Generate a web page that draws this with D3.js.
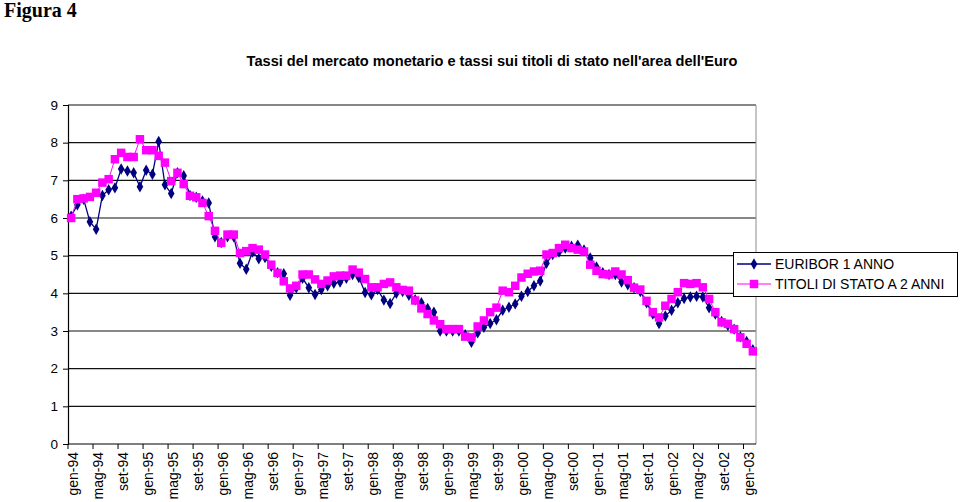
<!DOCTYPE html>
<html>
<head>
<meta charset="utf-8">
<script src="https://cdn.jsdelivr.net/npm/d3@7"></script>
<style>
  body { margin: 0; background: #fff; }
  svg { display: block; }
</style>
</head>
<body>
<svg id="chart"></svg>
<script>
// mesi gen-94 .. feb-03
const monthNames = ["gen", "feb", "mar", "apr", "mag", "giu", "lug", "ago", "set", "ott", "nov", "dic"];
const years = ["94", "95", "96", "97", "98", "99", "00", "01", "02", "03"];
const categories = years.flatMap((y) => monthNames.map((m) => `${m}-${y}`)).slice(0, 110);

const yTicks = [0, 1, 2, 3, 4, 5, 6, 7, 8, 9];

const euribor = [
  6.05, 6.35, 6.5, 5.9, 5.7, 6.6, 6.75, 6.8, 7.3, 7.25,
  7.2, 6.83, 7.27, 7.16, 8.03, 6.88, 6.65, 7.2, 7.12, 6.6,
  6.55, 6.45, 6.4, 5.5, 5.35, 5.5, 5.5, 4.8, 4.64, 5.1,
  4.92, 4.95, 4.72, 4.55, 4.52, 3.95, 4.15, 4.4, 4.15, 3.97,
  4.1, 4.2, 4.27, 4.3, 4.4, 4.5, 4.42, 4.02, 3.96, 4.1,
  3.82, 3.73, 4.0, 4.05, 3.95, 3.83, 3.75, 3.6, 3.5, 3.0,
  3.0, 3.0, 3.0, 2.9, 2.7, 2.95, 3.1, 3.2, 3.3, 3.55,
  3.63, 3.72, 3.92, 4.05, 4.2, 4.33, 4.8, 5.03, 5.1, 5.2,
  5.25, 5.28, 5.15, 4.94, 4.7, 4.55, 4.5, 4.5, 4.3, 4.23,
  4.15, 4.05, 3.75, 3.45, 3.2, 3.4, 3.55, 3.75, 3.86, 3.9,
  3.92, 3.9, 3.62, 3.45, 3.25, 3.15, 3.05, 2.85, 2.72, 2.5
];

const titoli = [
  6.0, 6.5, 6.52, 6.56, 6.67, 6.94, 7.03, 7.56, 7.73, 7.62,
  7.62, 8.09, 7.8, 7.8, 7.65, 7.47, 6.98, 7.2, 6.9, 6.59,
  6.55, 6.4, 6.05, 5.66, 5.34, 5.56, 5.56, 5.07, 5.12, 5.2,
  5.16, 5.03, 4.76, 4.54, 4.32, 4.13, 4.2, 4.5, 4.5, 4.37,
  4.25, 4.34, 4.45, 4.47, 4.47, 4.63, 4.55, 4.38, 4.16, 4.16,
  4.25, 4.29, 4.16, 4.09, 4.07, 3.81, 3.6, 3.45, 3.28, 3.18,
  3.05, 3.05, 3.05, 2.85, 2.83, 3.12, 3.28, 3.5, 3.62, 4.07,
  4.03, 4.2, 4.42, 4.52, 4.58, 4.6, 5.03, 5.07, 5.2, 5.29,
  5.2, 5.16, 5.11, 4.76, 4.6, 4.51, 4.5, 4.58, 4.5, 4.35,
  4.15, 4.1, 3.8, 3.5, 3.36, 3.67, 3.85, 4.03, 4.27, 4.25,
  4.27, 4.16, 3.85, 3.5, 3.23, 3.19, 3.05, 2.83, 2.66, 2.46
];

const seriesNames = ["EURIBOR 1 ANNO", "TITOLI DI STATO A 2 ANNI"];

const draw = () => {
  const width = 960,
    height = 502;
  const plot = { left: 68, right: 756, top: 105, bottom: 444 };
  const font = "Arial, 'Liberation Sans', sans-serif";

  const svg = d3.select("svg#chart").attr("width", width).attr("height", height);

  const x = d3.scaleBand().domain(categories).range([plot.left, plot.right]);
  const cx = (c) => x(c) + x.bandwidth() / 2;
  const y = d3.scaleLinear().domain([0, 9]).range([plot.bottom, plot.top]);

  // titoli
  svg.append("text")
    .attr("x", 4).attr("y", 17)
    .attr("font-family", "'Liberation Serif', 'Times New Roman', serif")
    .attr("font-weight", "bold").attr("font-size", "20px")
    .text("Figura 4");

  svg.append("text")
    .attr("x", 492).attr("y", 66)
    .attr("text-anchor", "middle")
    .attr("font-family", font).attr("font-weight", "bold").attr("font-size", "14.6px")
    .text("Tassi del mercato monetario e tassi sui titoli di stato nell'area dell'Euro");

  // griglia
  svg.append("g")
    .selectAll("line")
    .data(yTicks.filter((d) => d > 0))
    .join("line")
    .attr("x1", plot.left).attr("x2", plot.right)
    .attr("y1", (d) => y(d)).attr("y2", (d) => y(d))
    .attr("stroke", "#111").attr("stroke-width", 1.2);

  // bordo destro area del grafico
  svg.append("line")
    .attr("x1", plot.right).attr("x2", plot.right)
    .attr("y1", plot.top).attr("y2", plot.bottom)
    .attr("stroke", "#8c8c8c").attr("stroke-width", 1);

  // asse y
  const yAxis = svg.append("g")
    .attr("transform", `translate(${plot.left},0)`)
    .call(d3.axisLeft(y).tickValues(yTicks).tickSize(5).tickPadding(5).tickFormat(d3.format("d")));
  yAxis.select(".domain").attr("stroke", "#000").attr("stroke-width", 1.2);
  yAxis.selectAll(".tick line").attr("stroke", "#000");
  yAxis.selectAll("text").attr("font-family", font).attr("font-size", "13.5px").attr("fill", "#000");

  // asse x
  const xAxis = svg.append("g").attr("transform", `translate(0,${plot.bottom})`);
  xAxis.append("line")
    .attr("x1", plot.left).attr("x2", plot.right)
    .attr("stroke", "#000").attr("stroke-width", 1.2);
  const labelled = categories.filter((c, i) => i % 4 === 0);
  xAxis.selectAll("line.tick")
    .data(labelled)
    .join("line")
    .attr("class", "tick")
    .attr("x1", (d) => x(d)).attr("x2", (d) => x(d))
    .attr("y1", 0).attr("y2", 5)
    .attr("stroke", "#000");
  xAxis.selectAll("text")
    .data(labelled)
    .join("text")
    .attr("transform", (d) => `translate(${cx(d) + 2},8) rotate(-90)`)
    .attr("text-anchor", "end")
    .attr("dy", "0.35em")
    .attr("font-family", font).attr("font-size", "14px")
    .text((d) => d);

  // serie
  const series = [
    { name: seriesNames[0], values: euribor, color: "#000080", width: 1.3, marker: d3.symbolDiamond, size: 38 },
    { name: seriesNames[1], values: titoli, color: "#ff00ff", width: 1, marker: d3.symbolSquare, size: 72 },
  ];

  const line = d3.line().x((d, i) => cx(categories[i])).y((d) => y(d));

  for (const s of series) {
    svg.append("path")
      .attr("d", line(s.values))
      .attr("fill", "none")
      .attr("stroke", s.color)
      .attr("stroke-width", s.width);
    svg.append("g")
      .selectAll("path")
      .data(s.values)
      .join("path")
      .attr("transform", (d, i) => `translate(${cx(categories[i])},${y(d)})`)
      .attr("d", d3.symbol(s.marker, s.size))
      .attr("fill", s.color);
  }

  // legenda
  const legend = svg.append("g").attr("transform", "translate(733,252)");
  legend.append("rect")
    .attr("x", 0.5).attr("y", 0.5)
    .attr("width", 224).attr("height", 44)
    .attr("fill", "#fff").attr("stroke", "#000");
  series.forEach((s, i) => {
    const ly = 12 + i * 20;
    legend.append("line")
      .attr("x1", 4).attr("x2", 38)
      .attr("y1", ly).attr("y2", ly)
      .attr("stroke", s.color).attr("stroke-width", s.width);
    legend.append("path")
      .attr("transform", `translate(21,${ly})`)
      .attr("d", d3.symbol(s.marker, s.size))
      .attr("fill", s.color);
    legend.append("text")
      .attr("x", 42).attr("y", ly)
      .attr("dy", "0.36em")
      .attr("font-family", font).attr("font-size", "14px")
      .text(s.name);
  });

  return svg.node();
};

draw();
</script>
</body>
</html>
